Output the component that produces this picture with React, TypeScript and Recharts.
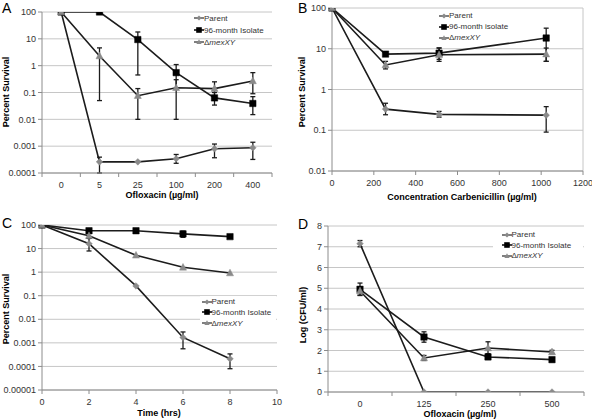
import { CartesianGrid, ErrorBar, Line, LineChart, ReferenceLine, XAxis, YAxis } from "recharts";

const FONT = "'Liberation Sans', Arial, Helvetica, sans-serif";
const LINE = "#1c1c1c";
const GREY_MARK = "#8a8a8a";
const AXIS = "#8c8c8c";
const GRID = "#c6c6c6";
const TICK = { fontSize: 9, fill: "#333", fontFamily: FONT };

const seriesNames = ["Parent", "96-month Isolate", "\u0394mexXY"];
const seriesNamesB = ["Parent", "96-month isolate", "\u0394mexXY"];

// A: ofloxacin kill, percent survival
const aDose = ["0", "5", "25", "100", "200", "400"];
const aParent = [100, 0.00026, 0.00026, 0.00034, 0.0008, 0.00087];
const aParentLo = [null, 0.0001, null, 0.00023, 0.00037, 0.00032];
const aParentHi = [null, 0.00039, null, 0.00049, 0.0012, 0.0014];
const aIsolate = [100, 100, 9.4, 0.55, 0.063, 0.039];
const aIsolateLo = [null, null, 0.45, 0.13, 0.034, 0.015];
const aIsolateHi = [null, null, 18, 1.1, 0.1, 0.07];
const aDelta = [100, 2.3, 0.076, 0.15, 0.14, 0.27];
const aDeltaLo = [null, 0.05, 0.01, 0.01, 0.069, 0.09];
const aDeltaHi = [null, 4.6, 0.14, 0.3, 0.25, 0.55];
const aYTicks = [0.0001, 0.001, 0.01, 0.1, 1, 10, 100];

// B: carbenicillin
const bConc = [0, 256, 512, 1024];
const bParent = [100, 0.33, 0.245, 0.235];
const bParentLo = [null, 0.24, 0.21, 0.09];
const bParentHi = [null, 0.46, 0.29, 0.38];
const bIsolate = [100, 7.4, 7.8, 18.3];
const bIsolateLo = [null, null, 5.5, 4.9];
const bIsolateHi = [null, null, 10.5, 32];
const bDelta = [100, 4.0, 7.1, 7.4];
const bDeltaLo = [null, 3.2, 4.9, 4.9];
const bDeltaHi = [null, 4.9, 10.4, 10.4];
const bXTicks = [0, 200, 400, 600, 800, 1000, 1200];
const bYTicks = [0.01, 0.1, 1, 10, 100];

// C: time course
const cTime = [0, 2, 4, 6, 8];
const cParent = [100, 16, 0.26, 0.0017, 0.00021];
const cParentLo = [null, 7.9, null, 0.00056, 0.00008];
const cParentHi = [null, 27, null, 0.0029, 0.00034];
const cIsolate = [100, 57, 57, 42, 32];
const cIsolateLo = [null, null, null, 30, null];
const cIsolateHi = [null, null, null, 55, null];
const cDelta = [100, 35, 5.2, 1.6, 0.92];
const cDeltaLo = [null, 27, null, null, null];
const cDeltaHi = [null, 45, null, null, null];
const cXTicks = [0, 2, 4, 6, 8, 10];
const cYTicks = [0.00001, 0.0001, 0.001, 0.01, 0.1, 1, 10, 100];

// D: log CFU/ml
const dDose = ["0", "125", "250", "500"];
const dParent = [7.15, 0, 0, 0];
const dParentLo = [7.0, null, null, null];
const dParentHi = [7.3, null, null, null];
const dIsolate = [4.95, 2.65, 1.69, 1.56];
const dIsolateLo = [4.65, 2.4, 1.57, 1.46];
const dIsolateHi = [5.25, 2.9, 1.81, 1.66];
const dDelta = [4.87, 1.64, 2.12, 1.93];
const dDeltaLo = [4.67, 1.52, 1.85, 1.85];
const dDeltaHi = [5.07, 1.76, 2.42, 2.01];
const dYTicks = [0, 1, 2, 3, 4, 5, 6, 7, 8];

type Series = { key: string; v: number[]; lo: (number | null)[]; hi: (number | null)[] };

function buildRows(xs: (string | number)[], series: Series[]) {
  return xs.map((x, i) => {
    const row: Record<string, unknown> = { x };
    series.forEach((s) => {
      row[s.key] = s.v[i];
      const lo = s.lo[i];
      const hi = s.hi[i];
      row[s.key + "Err"] = lo == null || hi == null ? null : [s.v[i] - lo, hi - s.v[i]];
    });
    return row;
  });
}

const rowsA = buildRows(aDose, [
  { key: "parent", v: aParent, lo: aParentLo, hi: aParentHi },
  { key: "isolate", v: aIsolate, lo: aIsolateLo, hi: aIsolateHi },
  { key: "delta", v: aDelta, lo: aDeltaLo, hi: aDeltaHi },
]);
const rowsB = buildRows(bConc, [
  { key: "parent", v: bParent, lo: bParentLo, hi: bParentHi },
  { key: "isolate", v: bIsolate, lo: bIsolateLo, hi: bIsolateHi },
  { key: "delta", v: bDelta, lo: bDeltaLo, hi: bDeltaHi },
]);
const rowsC = buildRows(cTime, [
  { key: "parent", v: cParent, lo: cParentLo, hi: cParentHi },
  { key: "isolate", v: cIsolate, lo: cIsolateLo, hi: cIsolateHi },
  { key: "delta", v: cDelta, lo: cDeltaLo, hi: cDeltaHi },
]);
const rowsD = buildRows(dDose, [
  { key: "parent", v: dParent, lo: dParentLo, hi: dParentHi },
  { key: "isolate", v: dIsolate, lo: dIsolateLo, hi: dIsolateHi },
  { key: "delta", v: dDelta, lo: dDeltaLo, hi: dDeltaHi },
]);

type Shape = "diamond" | "square" | "triangle";

function markPath(shape: Shape, cx: number, cy: number, s: number): string {
  if (shape === "diamond") return `M${cx},${cy - s}L${cx + s},${cy}L${cx},${cy + s}L${cx - s},${cy}Z`;
  if (shape === "square") return `M${cx - s},${cy - s}H${cx + s}V${cy + s}H${cx - s}Z`;
  return `M${cx},${cy - s * 1.1}L${cx + s},${cy + s * 0.8}L${cx - s},${cy + s * 0.8}Z`;
}

const SERIES: { key: string; shape: Shape; fill: string; size: number }[] = [
  { key: "parent", shape: "diamond", fill: GREY_MARK, size: 3.3 },
  { key: "isolate", shape: "square", fill: "#000", size: 3.2 },
  { key: "delta", shape: "triangle", fill: GREY_MARK, size: 3.5 },
];

function makeDot(shape: Shape, fill: string, size: number) {
  return (p: any) => {
    if (p.cx == null || p.cy == null) return <g key={`e-${p.index}`} />;
    return <path key={`m-${shape}-${p.index}`} d={markPath(shape, p.cx, p.cy, size)} fill={fill} stroke={fill} strokeWidth={0.5} />;
  };
}

function bandTick(band: number, count: number, gap: number) {
  return (p: any) => {
    const { x, y, payload, index } = p;
    const ay = y - gap;
    return (
      <g>
        <line x1={x - band / 2} x2={x - band / 2} y1={ay} y2={ay + 4} stroke={AXIS} />
        {index === count - 1 && <line x1={x + band / 2} x2={x + band / 2} y1={ay} y2={ay + 4} stroke={AXIS} />}
        <text x={x} y={y} dy="0.71em" textAnchor="middle" {...TICK}>
          {payload.value}
        </text>
      </g>
    );
  };
}

type PanelProps = {
  left: number;
  top: number;
  width: number;
  height: number;
  plot: [number, number, number, number]; // l, r, t, b in page coords
  rows: Record<string, unknown>[];
  category: boolean;
  xTicks?: number[];
  log: boolean;
  yDomain: [number, number];
  yTicks: number[];
  rightBorder?: boolean;
};

function Panel(props: PanelProps) {
  const { left, top, width, height, plot, rows, category, xTicks, log, yDomain, yTicks, rightBorder } = props;
  const [pl, pr, pt, pb] = plot;
  const yWidth = pl - left;
  const margin = { top: pt - top, right: left + width - pr, bottom: 0, left: 0 };
  const xHeight = top + height - pb;
  const band = (pr - pl) / rows.length;
  const gap = 9;
  return (
    <div style={{ position: "absolute", left, top }}>
      <LineChart width={width} height={height} data={rows} margin={margin}>
        <CartesianGrid vertical={false} stroke={GRID} strokeWidth={1} />
        {category ? (
          <XAxis
            dataKey="x"
            type="category"
            scale="band"
            height={xHeight}
            axisLine={{ stroke: AXIS }}
            tickLine={false}
            tickSize={0}
            tickMargin={gap}
            interval={0}
            tick={bandTick(band, rows.length, gap)}
          />
        ) : (
          <XAxis
            dataKey="x"
            type="number"
            domain={[xTicks![0], xTicks![xTicks!.length - 1]]}
            ticks={xTicks}
            height={xHeight}
            axisLine={{ stroke: AXIS }}
            tickLine={{ stroke: AXIS }}
            tickSize={4}
            tickMargin={5}
            interval={0}
            tick={TICK}
          />
        )}
        <YAxis
          type="number"
          scale={log ? "log" : "linear"}
          domain={yDomain}
          ticks={yTicks}
          allowDataOverflow
          width={yWidth}
          axisLine={{ stroke: AXIS }}
          tickLine={{ stroke: AXIS }}
          tickSize={4}
          tickMargin={2}
          interval={0}
          tick={TICK}
          tickFormatter={(v: number) => String(v)}
        />
        {rightBorder && <ReferenceLine x={xTicks![xTicks!.length - 1]} stroke={GRID} />}
        {SERIES.map((s) => (
          <Line
            key={s.key}
            dataKey={s.key}
            type="linear"
            stroke={LINE}
            strokeWidth={1.6}
            dot={makeDot(s.shape, s.fill, s.size)}
            activeDot={false}
            isAnimationActive={false}
          >
            <ErrorBar dataKey={`${s.key}Err`} direction="y" width={2.5} stroke={LINE} strokeWidth={1.3} />
          </Line>
        ))}
      </LineChart>
    </div>
  );
}

function Icon({ shape, fill }: { shape: Shape; fill: string }) {
  return (
    <svg width={10} height={8} style={{ display: "block", flex: "none" }}>
      <line x1={0} x2={10} y1={4} y2={4} stroke={shape === "square" ? "#000" : "#555"} strokeWidth={1.5} />
      <path d={markPath(shape, 5, 4, shape === "square" ? 2.8 : 2.6)} fill={fill} />
    </svg>
  );
}

function Label({ name }: { name: string }) {
  if (name.startsWith("\u0394")) {
    return (
      <span>
        {"\u0394"}
        <i>{name.slice(1)}</i>
      </span>
    );
  }
  return <span>{name}</span>;
}

function LegendBox(props: { left: number; top: number; rowH: number; names: string[]; bg?: string; width?: number; pad?: number }) {
  const { left, top, rowH, names, bg, width, pad = 0 } = props;
  return (
    <div
      style={{
        position: "absolute",
        left: left - pad,
        top,
        width,
        paddingLeft: pad,
        boxSizing: "border-box",
        background: bg ?? "transparent",
        fontSize: 8,
        color: "#333",
        fontFamily: FONT,
      }}
    >
      {names.map((n, i) => (
        <div key={n} style={{ display: "flex", alignItems: "center", height: rowH, whiteSpace: "nowrap" }}>
          <Icon shape={SERIES[i].shape} fill={SERIES[i].fill} />
          <Label name={n} />
        </div>
      ))}
    </div>
  );
}

function XTitle({ cx, cy, text }: { cx: number; cy: number; text: string }) {
  return (
    <div
      style={{
        position: "absolute",
        left: cx - 150,
        top: cy - 6,
        width: 300,
        height: 12,
        lineHeight: "12px",
        textAlign: "center",
        fontWeight: "bold",
        fontSize: 9,
        fontFamily: FONT,
      }}
    >
      {text}
    </div>
  );
}

function YTitle({ cx, cy, text }: { cx: number; cy: number; text: string }) {
  return (
    <div
      style={{
        position: "absolute",
        left: cx - 100,
        top: cy - 6,
        width: 200,
        height: 12,
        lineHeight: "12px",
        textAlign: "center",
        fontWeight: "bold",
        fontSize: 9,
        fontFamily: FONT,
        transform: "rotate(-90deg)",
      }}
    >
      {text}
    </div>
  );
}

function Letter({ left, top, text }: { left: number; top: number; text: string }) {
  return (
    <div style={{ position: "absolute", left, top, fontSize: 14, lineHeight: "14px", fontFamily: FONT }}>{text}</div>
  );
}

export default function App() {
  return (
    <div style={{ position: "absolute", left: 0, top: 0, width: 592, height: 419, background: "#fff", fontFamily: FONT, overflow: "hidden" }}>
      <Panel left={0} top={0} width={296} height={210} plot={[42, 272, 12, 173]} rows={rowsA} category log yDomain={[0.0001, 100]} yTicks={aYTicks} />
      <Panel left={296} top={0} width={296} height={210} plot={[332, 583, 8, 171]} rows={rowsB} category={false} xTicks={bXTicks} log yDomain={[0.01, 100]} yTicks={bYTicks} rightBorder />
      <Panel left={0} top={210} width={296} height={209} plot={[42, 277, 225, 390]} rows={rowsC} category={false} xTicks={cXTicks} log yDomain={[0.00001, 100]} yTicks={cYTicks} />
      <Panel left={296} top={210} width={296} height={209} plot={[328, 584, 226, 392]} rows={rowsD} category log={false} yDomain={[0, 8]} yTicks={dYTicks} />

      <LegendBox left={194} top={12.3} rowH={12} names={seriesNames} />
      <LegendBox left={439} top={10.2} rowH={11} names={seriesNamesB} />
      <LegendBox left={201.5} top={296.3} rowH={10.8} names={seriesNames} bg="#fff" width={76} pad={1.5} />
      <LegendBox left={501.5} top={229.8} rowH={10.4} names={seriesNames} bg="#fff" width={90} pad={8.5} />

      <Letter left={2} top={1} text="A" />
      <Letter left={298} top={1} text="B" />
      <Letter left={2} top={216} text="C" />
      <Letter left={298} top={217} text="D" />

      <YTitle cx={6} cy={92} text="Percent Survival" />
      <XTitle cx={162} cy={195} text="Ofloxacin (µg/ml)" />
      <YTitle cx={302} cy={92} text="Percent Survival" />
      <XTitle cx={462} cy={197} text="Concentration Carbenicillin (µg/ml)" />
      <YTitle cx={6} cy={309} text="Percent Survival" />
      <XTitle cx={159} cy={413} text="Time (hrs)" />
      <YTitle cx={303} cy={315} text="Log (CFU/ml)" />
      <XTitle cx={460} cy={414} text="Ofloxacin (µg/ml)" />
    </div>
  );
}
